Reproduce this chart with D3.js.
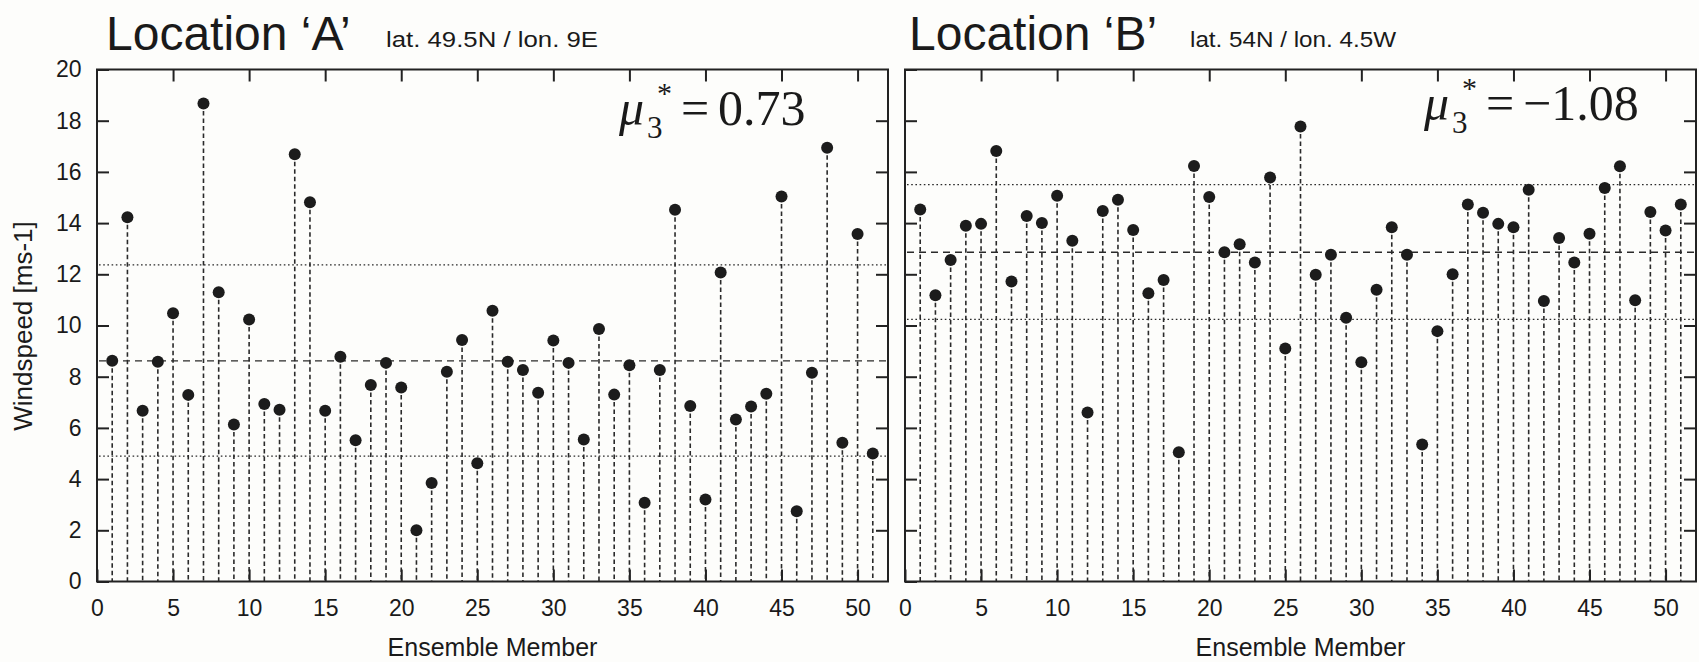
<!DOCTYPE html>
<html>
<head>
<meta charset="utf-8">
<script src="https://cdn.jsdelivr.net/npm/d3@7"></script>
<style>
	body { margin: 0; background: #fdfdfb; }
	svg { display: block; }
	text { fill: #1a1a1a; }
</style>
</head>
<body>
<script>
// ensemble members 1..51
var members = d3.range(1, 52);

// Location A windspeeds [m/s]
var windA = [8.62, 14.23, 6.67, 8.58, 10.48, 7.29, 18.67, 11.3, 6.13, 10.23,
	6.93, 6.71, 16.69, 14.81, 6.67, 8.78, 5.52, 7.68, 8.54, 7.58,
	2.0, 3.85, 8.19, 9.43, 4.62, 10.58, 8.58, 8.26, 7.37, 9.41,
	8.54, 5.55, 9.86, 7.3, 8.45, 3.08, 8.26, 14.52, 6.86, 3.2,
	12.07, 6.33, 6.84, 7.33, 15.04, 2.74, 8.15, 16.94, 5.42, 13.57,
	5.0];

// Location B windspeeds [m/s]
var windB = [14.53, 11.18, 12.56, 13.9, 13.97, 16.82, 11.72, 14.28, 14.0, 15.07,
	13.31, 6.6, 14.47, 14.91, 13.73, 11.26, 11.78, 5.05, 16.23, 15.02,
	12.86, 13.17, 12.46, 15.78, 9.1, 17.77, 11.98, 12.76, 10.3, 8.56,
	11.4, 13.84, 12.76, 5.35, 9.78, 12.0, 14.73, 14.4, 13.97, 13.84,
	15.3, 10.96, 13.42, 12.46, 13.58, 15.37, 16.22, 10.99, 14.43, 13.71,
	14.73];

// horizontal reference lines: upper, mean, lower
var refA = [12.37, 8.62, 4.9];
var refB = [15.5, 12.86, 10.24];
var refStyle = ["dotted", "dashed", "dotted"];

var xTicks = d3.range(0, 51, 5);
var yTicks = d3.range(0, 21, 2);

var width = 1699;
var height = 662;

var svg = d3.select("body").append("svg")
	.attr("width", width)
	.attr("height", height);

var y = d3.scaleLinear().domain([0, 20]).range([581.5, 69.5]);

var drawPanel = function(left, right, values, refs, withLabels) {
	var x = d3.scaleLinear().domain([0, 52]).range([left, right]);
	var g = svg.append("g");

	// reference lines
	g.selectAll(".ref").data(refs).enter().append("line")
		.attr("x1", left + 2)
		.attr("x2", right - 2)
		.attr("y1", function(d) { return y(d); })
		.attr("y2", function(d) { return y(d); })
		.attr("stroke", "#2a2a2a")
		.attr("stroke-width", function(d, i) { return refStyle[i] == "dashed" ? 1.4 : 1.2; })
		.attr("stroke-dasharray", function(d, i) { return refStyle[i] == "dashed" ? "7,5" : "1.6,2.6"; });

	// stems
	g.selectAll(".stem").data(members).enter().append("line")
		.attr("x1", function(d) { return x(d); })
		.attr("x2", function(d) { return x(d); })
		.attr("y1", function(d, i) { return y(values[i]); })
		.attr("y2", y(0))
		.attr("stroke", "#2a2a2a")
		.attr("stroke-width", 1.6)
		.attr("stroke-dasharray", "4.5,3");

	// points
	g.selectAll(".pt").data(members).enter().append("circle")
		.attr("cx", function(d) { return x(d); })
		.attr("cy", function(d, i) { return y(values[i]); })
		.attr("r", 6)
		.attr("fill", "#1c1c1c");

	// axes, ticks pointing inward on all four sides
	var bottom = g.append("g").attr("transform", "translate(0," + y(0) + ")")
		.call(d3.axisBottom(x).tickValues(xTicks).tickSizeInner(-12).tickSizeOuter(0).tickPadding(18.5));
	var top = g.append("g").attr("transform", "translate(0," + y(20) + ")")
		.call(d3.axisTop(x).tickValues(xTicks.slice(1)).tickSizeInner(-12).tickSizeOuter(0).tickFormat(""));
	var leftAx = g.append("g").attr("transform", "translate(" + left + ",0)")
		.call(d3.axisLeft(y).tickValues(yTicks).tickSizeInner(-12).tickSizeOuter(0).tickPadding(15.5)
			.tickFormat(withLabels ? d3.format("d") : ""));
	var rightAx = g.append("g").attr("transform", "translate(" + right + ",0)")
		.call(d3.axisRight(y).tickValues(yTicks.slice(1, -1)).tickSizeInner(-12).tickSizeOuter(0).tickFormat(""));

	[bottom, top, leftAx, rightAx].forEach(function(a) {
		a.select(".domain").remove();
		a.selectAll("line").attr("stroke", "#222").attr("stroke-width", 2);
		a.selectAll("text")
			.attr("font-family", "'Liberation Sans', Arial, sans-serif")
			.attr("font-size", 23)
			.attr("fill", "#1a1a1a");
	});

	// box
	g.append("rect")
		.attr("x", left)
		.attr("y", y(20))
		.attr("width", right - left)
		.attr("height", y(0) - y(20))
		.attr("fill", "none")
		.attr("stroke", "#222")
		.attr("stroke-width", 2);

	g.append("text")
		.attr("x", (left + right) / 2)
		.attr("y", 656)
		.attr("text-anchor", "middle")
		.attr("font-family", "'Liberation Sans', Arial, sans-serif")
		.attr("font-size", 25)
		.text("Ensemble Member");
};

drawPanel(97, 888, windA, refA, true);
drawPanel(905, 1696, windB, refB, false);

svg.append("text")
	.attr("transform", "translate(32,326) rotate(-90)")
	.attr("text-anchor", "middle")
	.attr("font-family", "'Liberation Sans', Arial, sans-serif")
	.attr("font-size", 26)
	.text("Windspeed [ms-1]");

// titles
var title = function(x0, txt, x1, sub, sublen) {
	svg.append("text")
		.attr("x", x0).attr("y", 50)
		.attr("font-family", "'Liberation Sans', Arial, sans-serif")
		.attr("font-size", 48)
		.text(txt);
	svg.append("text")
		.attr("x", x1).attr("y", 47)
		.attr("font-family", "'Liberation Sans', Arial, sans-serif")
		.attr("font-size", 22)
		.attr("textLength", sublen)
		.attr("lengthAdjust", "spacingAndGlyphs")
		.text(sub);
};
title(106, "Location \u2018A\u2019", 386, "lat. 49.5N / lon. 9E", 212);
title(909, "Location \u2018B\u2019", 1190, "lat. 54N / lon. 4.5W", 206);

// skewness annotations
var skew = function(x0, base, val) {
	var serif = "'Liberation Serif', 'Times New Roman', serif";
	svg.append("text").attr("x", x0).attr("y", base)
		.attr("font-family", serif).attr("font-style", "italic").attr("font-size", 50)
		.text("\u03bc");
	svg.append("text").attr("x", x0 + 28).attr("y", base + 13)
		.attr("font-family", serif).attr("font-size", 31)
		.text("3");
	svg.append("text").attr("x", x0 + 38).attr("y", base - 22)
		.attr("font-family", serif).attr("font-size", 30)
		.text("*");
	svg.append("text").attr("x", x0 + 62).attr("y", base)
		.attr("font-family", serif).attr("font-size", 50)
		.text("=");
	svg.append("text").attr("x", x0 + 99).attr("y", base)
		.attr("font-family", serif).attr("font-size", 50)
		.text(val);
};
skew(619, 125, "0.73");
skew(1424, 120, "\u22121.08");
</script>
</body>
</html>
